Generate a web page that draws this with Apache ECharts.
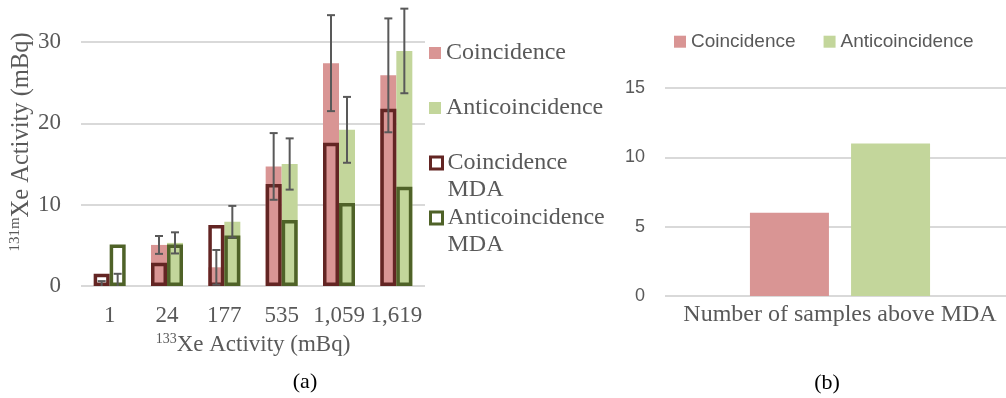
<!DOCTYPE html>
<html>
<head>
<meta charset="utf-8">
<script src="https://cdn.jsdelivr.net/npm/echarts@6/dist/echarts.min.js"></script>
<style>html,body{margin:0;padding:0;background:#fff}#c{width:1006px;height:398px}</style>
</head>
<body>
<div id="c"></div>
<script>
// ---- data (a) ----
const categories = ['1', '24', '177', '535', '1,059', '1,619'];
const coincidence = [0.05, 5.05, 2.3, 14.7, 27.4, 25.9];
const coincidenceErr = [0.55, 1.1, 2.13, 4.1, 5.9, 7.0];
const anticoincidence = [0.1, 5.3, 7.9, 15.0, 19.2, 28.9];
const anticoincidenceErr = [1.4, 1.3, 1.95, 3.15, 4.05, 5.2];
const coincidenceMDA = [1.5, 2.85, 7.5, 12.55, 17.6, 21.8];
const anticoincidenceMDA = [5.1, 5.1, 6.2, 8.1, 10.2, 12.2];
// ---- data (b) ----
const summaryCategories = ['Number of samples above MDA'];
const samplesCoincidence = [6];
const samplesAnticoincidence = [11];

const PINK = '#d99594', GREEN = '#c3d69b', DRED = '#632523', DGREEN = '#4f6228';
const GRAY = '#595959', GRID = '#d9d9d9';
const SERIF = 'Liberation Serif', SANS = 'Liberation Sans';
const BAR_W = 16;

function errRender(offset) {
  return function (params, api) {
    const i = api.value(0), v = api.value(1), e = api.value(2);
    const top = api.coord([i, v + e]);
    const low = Math.max(0, v - e);
    const bot = api.coord([i, low]);
    const x = top[0] + offset;
    const st = { stroke: GRAY, lineWidth: 2 };
    const ch = [
      { type: 'line', shape: { x1: x, y1: top[1], x2: x, y2: bot[1] }, style: st },
      { type: 'line', shape: { x1: x - 4, y1: top[1], x2: x + 4, y2: top[1] }, style: st }
    ];
    if (v - e > 0) ch.push({ type: 'line', shape: { x1: x - 4, y1: bot[1], x2: x + 4, y2: bot[1] }, style: st });
    return { type: 'group', children: ch };
  };
}

const chart = echarts.init(document.getElementById('c'), null, { renderer: 'canvas' });
const legendText = { fontFamily: SERIF, fontSize: 24, color: GRAY, lineHeight: 27 };
const mdaFormatter = n => '\n' + n.replace(' MDA', '\nMDA');

chart.setOption({
  animation: false,
  textStyle: { fontFamily: SERIF },
  grid: [
    { left: 81, width: 344, top: 42, bottom: 112, outerBoundsMode: 'none' },
    { left: 665, width: 350, top: 88, bottom: 102, outerBoundsMode: 'none' }
  ],
  legend: [
    { data: ['Coincidence'], left: 429, top: 39.5, padding: 0, icon: 'rect', itemWidth: 12, itemHeight: 12, textStyle: legendText, selectedMode: false },
    { data: ['Anticoincidence'], left: 429, top: 94.5, padding: 0, icon: 'rect', itemWidth: 12, itemHeight: 12, textStyle: legendText, selectedMode: false },
    { data: [{ name: 'Coincidence MDA', itemStyle: { color: '#fff', borderColor: DRED, borderWidth: 3 } }], left: 429, top: 122.5, padding: 0, icon: 'rect', itemWidth: 12, itemHeight: 12, textStyle: legendText, formatter: mdaFormatter, selectedMode: false },
    { data: [{ name: 'Anticoincidence MDA', itemStyle: { color: '#fff', borderColor: DGREEN, borderWidth: 3 } }], left: 429, top: 177.5, padding: 0, icon: 'rect', itemWidth: 12, itemHeight: 12, textStyle: legendText, formatter: mdaFormatter, selectedMode: false },
    { data: ['Coincidence', 'Anticoincidence'], left: 674, top: 31.7, padding: 0, icon: 'rect', itemWidth: 12, itemHeight: 12, itemGap: 28, textStyle: { fontFamily: SANS, fontSize: 19, color: GRAY, lineHeight: 20 }, selectedMode: false }
  ],
  xAxis: [
    {
      type: 'category', gridIndex: 0, data: categories,
      axisLine: { show: false }, axisTick: { show: false },
      axisLabel: { fontFamily: SERIF, fontSize: 23, color: GRAY, margin: 18, interval: 0 },
      name: '{s|133}{m|Xe Activity (mBq)}', nameLocation: 'middle', nameGap: 43,
      nameTextStyle: { color: GRAY, rich: {
        s: { fontFamily: SERIF, fontSize: 14, color: GRAY, verticalAlign: 'top', lineHeight: 14 },
        m: { fontFamily: SERIF, fontSize: 23, color: GRAY, lineHeight: 26 } } }
    },
    {
      type: 'category', gridIndex: 1, data: summaryCategories,
      axisLine: { show: false }, axisTick: { show: false },
      axisLabel: { fontFamily: SERIF, fontSize: 24, color: GRAY, margin: 7, interval: 0 }
    },
    { type: 'category', gridIndex: 0, data: categories, show: false }
  ],
  yAxis: [
    {
      type: 'value', gridIndex: 0, min: 0, max: 30, interval: 10,
      axisLine: { show: false }, axisTick: { show: false },
      axisLabel: { fontFamily: SERIF, fontSize: 23, color: GRAY, margin: 20 },
      splitLine: { lineStyle: { color: GRID, width: 2 } },
      name: '{s|131m}{m|Xe Activity (mBq)}', nameLocation: 'middle', nameGap: 46,
      nameTextStyle: { color: GRAY, padding: [0, 0, 0, 44], rich: {
        s: { fontFamily: SERIF, fontSize: 15, color: GRAY, verticalAlign: 'top', lineHeight: 15 },
        m: { fontFamily: SERIF, fontSize: 24.5, color: GRAY, lineHeight: 27 } } }
    },
    {
      type: 'value', gridIndex: 1, min: 0, max: 15, interval: 5,
      axisLine: { show: false }, axisTick: { show: false },
      axisLabel: { fontFamily: SANS, fontSize: 18, color: GRAY, margin: 20 },
      splitLine: { lineStyle: { color: GRID, width: 2 } }
    }
  ],
  series: [
    { name: 'Coincidence', type: 'bar', xAxisIndex: 0, yAxisIndex: 0, data: coincidence, barWidth: BAR_W, barGap: '0%', itemStyle: { color: PINK } },
    { name: 'Anticoincidence', type: 'bar', xAxisIndex: 0, yAxisIndex: 0, data: anticoincidence, barWidth: BAR_W, barGap: '0%', itemStyle: { color: GREEN } },
    { name: 'Coincidence MDA', type: 'bar', xAxisIndex: 2, yAxisIndex: 0, data: coincidenceMDA, barWidth: BAR_W, barGap: '0%', z: 3,
      itemStyle: { color: 'rgba(0,0,0,0)', borderColor: DRED, borderWidth: 3.5 } },
    { name: 'Anticoincidence MDA', type: 'bar', xAxisIndex: 2, yAxisIndex: 0, data: anticoincidenceMDA, barWidth: BAR_W, barGap: '0%', z: 3,
      itemStyle: { color: 'rgba(0,0,0,0)', borderColor: DGREEN, borderWidth: 3.5 } },
    { name: 'Coincidence error', type: 'custom', xAxisIndex: 0, yAxisIndex: 0, z: 4,
      data: coincidence.map((v, i) => [i, v, coincidenceErr[i]]), renderItem: errRender(-BAR_W / 2), encode: { x: 0, y: 1 } },
    { name: 'Anticoincidence error', type: 'custom', xAxisIndex: 0, yAxisIndex: 0, z: 4,
      data: anticoincidence.map((v, i) => [i, v, anticoincidenceErr[i]]), renderItem: errRender(BAR_W / 2), encode: { x: 0, y: 1 } },
    { name: 'Coincidence', type: 'bar', xAxisIndex: 1, yAxisIndex: 1, data: samplesCoincidence, barWidth: 79, barGap: '28%', itemStyle: { color: PINK } },
    { name: 'Anticoincidence', type: 'bar', xAxisIndex: 1, yAxisIndex: 1, data: samplesAnticoincidence, barWidth: 79, barGap: '28%', itemStyle: { color: GREEN } }
  ],
  graphic: [
    { type: 'text', x: 305, y: 382, style: { text: '(a)', font: '22px "Liberation Serif"', fill: '#000', align: 'center', verticalAlign: 'middle' } },
    { type: 'text', x: 827, y: 383, style: { text: '(b)', font: '22px "Liberation Serif"', fill: '#000', align: 'center', verticalAlign: 'middle' } }
  ]
});
</script>
</body>
</html>
